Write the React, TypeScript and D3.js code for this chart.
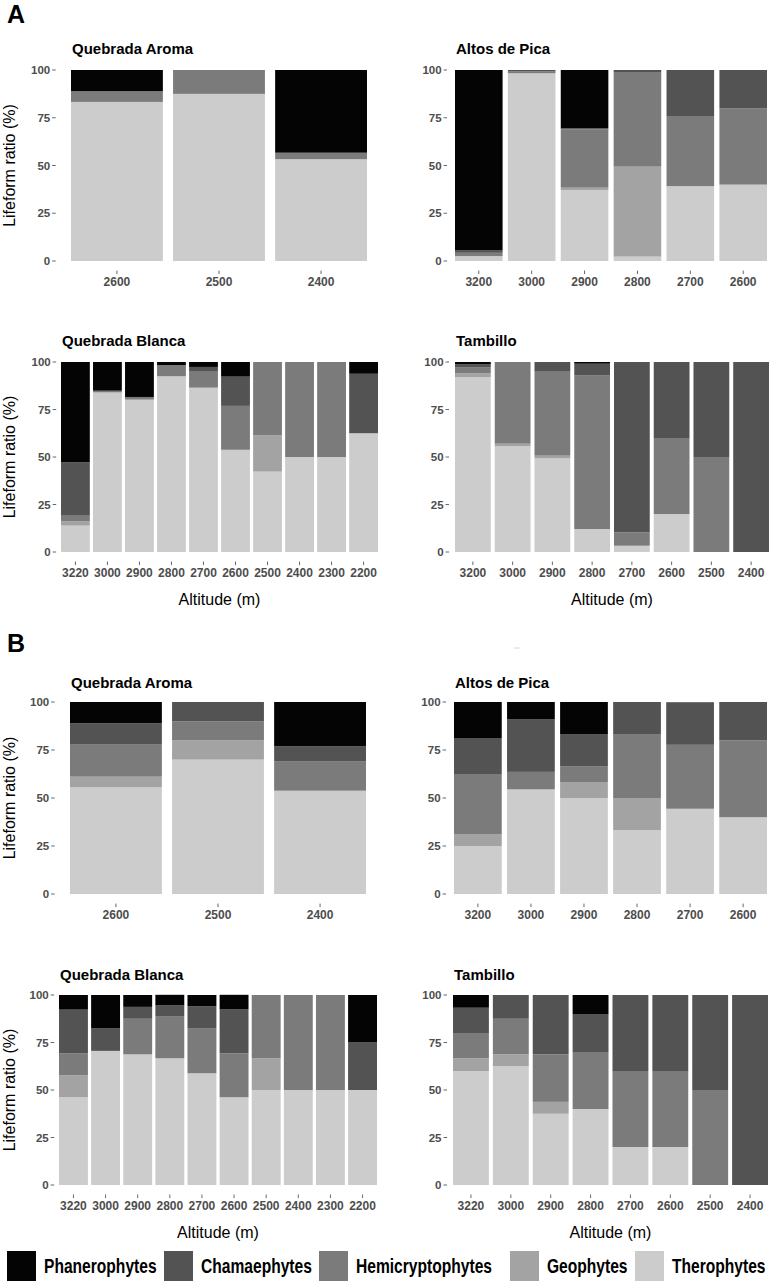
import React from "react";
import * as d3 from "d3";

// ---------- data ----------
const lifeforms = ["Phanerophytes", "Chamaephytes", "Hemicryptophytes", "Geophytes", "Therophytes"];
const stackKeys = ["Therophytes", "Geophytes", "Hemicryptophytes", "Chamaephytes", "Phanerophytes"]; // bottom -> top
const lifeformColors = ["#040404", "#535353", "#7b7b7b", "#a3a3a3", "#cccccc"];
const yTicks = [0, 25, 50, 75, 100];

// Panel A
const altA_QA = ["2600", "2500", "2400"];
const a_QA_Ther = [83.3, 87.5, 53.3];
const a_QA_Geo = [0, 0, 0];
const a_QA_Hemi = [5.6, 12.5, 3.4];
const a_QA_Cham = [0, 0, 0];
const a_QA_Phan = [11.1, 0, 43.3];

const altA_AP = ["3200", "3000", "2900", "2800", "2700", "2600"];
const a_AP_Ther = [2.6, 98.3, 37.2, 2.3, 39.2, 40];
const a_AP_Geo = [0, 0, 1.2, 47.1, 0, 0];
const a_AP_Hemi = [1.7, 0.9, 30.5, 49.2, 36.7, 40];
const a_AP_Cham = [1.4, 0.8, 0.6, 1.4, 24.1, 20];
const a_AP_Phan = [94.3, 0, 30.5, 0, 0, 0];

const altA_QB = ["3220", "3000", "2900", "2800", "2700", "2600", "2500", "2400", "2300", "2200"];
const a_QB_Ther = [13.9, 84.0, 80.2, 92.5, 86.5, 53.8, 42.3, 50, 50, 62.5];
const a_QB_Geo = [2.2, 0, 0, 0, 0, 0, 19.2, 0, 0, 0];
const a_QB_Hemi = [3.0, 0.9, 1.4, 5.9, 8.4, 23.1, 38.5, 50, 50, 0];
const a_QB_Cham = [28.1, 0, 0, 0, 2.5, 15.4, 0, 0, 0, 31.3];
const a_QB_Phan = [52.8, 15.1, 18.4, 1.6, 2.6, 7.7, 0, 0, 0, 6.2];

const altA_T = ["3200", "3000", "2900", "2800", "2700", "2600", "2500", "2400"];
const a_T_Ther = [92.1, 55.6, 49.3, 12.1, 3.3, 20, 0, 0];
const a_T_Geo = [1.9, 1.4, 1.4, 0, 0, 0, 0, 0];
const a_T_Hemi = [3.3, 43.0, 44.2, 81.0, 7.1, 40, 50, 0];
const a_T_Cham = [1.6, 0, 5.1, 6.0, 89.6, 40, 50, 100];
const a_T_Phan = [1.1, 0, 0, 0.9, 0, 0, 0, 0];

// Panel B
const altB_QA = ["2600", "2500", "2400"];
const b_QA_Ther = [55.6, 70, 53.8];
const b_QA_Geo = [5.5, 10, 0];
const b_QA_Hemi = [16.7, 10, 15.4];
const b_QA_Cham = [11.1, 10, 7.7];
const b_QA_Phan = [11.1, 0, 23.1];

const altB_AP = ["3200", "3000", "2900", "2800", "2700", "2600"];
const b_AP_Ther = [25, 54.5, 50, 33.3, 44.4, 40];
const b_AP_Geo = [6.25, 0, 8.3, 16.7, 0, 0];
const b_AP_Hemi = [31.25, 9.1, 8.3, 33.3, 33.3, 40];
const b_AP_Cham = [18.75, 27.3, 16.7, 16.7, 22.2, 20];
const b_AP_Phan = [18.75, 9.1, 16.7, 0, 0, 0];

const altB_QB = ["3220", "3000", "2900", "2800", "2700", "2600", "2500", "2400", "2300", "2200"];
const b_QB_Ther = [46.2, 70.6, 68.75, 66.7, 58.8, 46.2, 50, 50, 50, 50];
const b_QB_Geo = [11.5, 0, 0, 0, 0, 0, 16.7, 0, 0, 0];
const b_QB_Hemi = [11.5, 0, 18.75, 22.2, 23.5, 23.1, 33.3, 50, 50, 0];
const b_QB_Cham = [23.1, 11.8, 6.25, 5.6, 11.8, 23.1, 0, 0, 0, 25];
const b_QB_Phan = [7.7, 17.6, 6.25, 5.6, 5.9, 7.7, 0, 0, 0, 25];

const altB_T = ["3220", "3000", "2900", "2800", "2700", "2600", "2500", "2400"];
const b_T_Ther = [60, 62.5, 37.5, 40, 20, 20, 0, 0];
const b_T_Geo = [6.7, 6.25, 6.25, 0, 0, 0, 0, 0];
const b_T_Hemi = [13.3, 18.75, 25, 30, 40, 40, 50, 0];
const b_T_Cham = [13.3, 12.5, 31.25, 20, 40, 40, 50, 100];
const b_T_Phan = [6.7, 0, 0, 10, 0, 0, 0, 0];

// ---------- layout ----------
const FONT = "'Liberation Sans', Arial, Helvetica, sans-serif";

type Frame = { x0: number; x1: number; yTop: number; yBot: number; titleY: number; xTitleY?: number };

const panels = [
  { title: "Quebrada Aroma", cats: altA_QA, s: [a_QA_Phan, a_QA_Cham, a_QA_Hemi, a_QA_Geo, a_QA_Ther], f: { x0: 71, x1: 367, yTop: 70, yBot: 261, titleY: 53.5 }, yLab: true },
  { title: "Altos de Pica", cats: altA_AP, s: [a_AP_Phan, a_AP_Cham, a_AP_Hemi, a_AP_Geo, a_AP_Ther], f: { x0: 455, x1: 767, yTop: 70, yBot: 261, titleY: 53.5 }, yLab: false },
  { title: "Quebrada Blanca", cats: altA_QB, s: [a_QB_Phan, a_QB_Cham, a_QB_Hemi, a_QB_Geo, a_QB_Ther], f: { x0: 61, x1: 378, yTop: 362, yBot: 552, titleY: 345.5, xTitleY: 605 }, yLab: true },
  { title: "Tambillo", cats: altA_T, s: [a_T_Phan, a_T_Cham, a_T_Hemi, a_T_Geo, a_T_Ther], f: { x0: 455, x1: 769, yTop: 362, yBot: 552, titleY: 345.5, xTitleY: 605 }, yLab: false },
  { title: "Quebrada Aroma", cats: altB_QA, s: [b_QA_Phan, b_QA_Cham, b_QA_Hemi, b_QA_Geo, b_QA_Ther], f: { x0: 70, x1: 366, yTop: 702, yBot: 894, titleY: 687.5 }, yLab: true },
  { title: "Altos de Pica", cats: altB_AP, s: [b_AP_Phan, b_AP_Cham, b_AP_Hemi, b_AP_Geo, b_AP_Ther], f: { x0: 454, x1: 767, yTop: 702, yBot: 894, titleY: 687.5 }, yLab: false },
  { title: "Quebrada Blanca", cats: altB_QB, s: [b_QB_Phan, b_QB_Cham, b_QB_Hemi, b_QB_Geo, b_QB_Ther], f: { x0: 59, x1: 377, yTop: 995, yBot: 1185, titleY: 979.5, xTitleY: 1238 }, yLab: true },
  { title: "Tambillo", cats: altB_T, s: [b_T_Phan, b_T_Cham, b_T_Hemi, b_T_Geo, b_T_Ther], f: { x0: 453, x1: 768, yTop: 995, yBot: 1185, titleY: 979.5, xTitleY: 1238 }, yLab: false },
];

function Panel({ title, cats, s, f, yLab }: { title: string; cats: string[]; s: number[][]; f: Frame; yLab: boolean }) {
  const x = d3.scaleBand<string>().domain(cats).range([f.x0, f.x1]).paddingInner(0.1).paddingOuter(0);
  const y = d3.scaleLinear().domain([0, 100]).range([f.yBot, f.yTop]);
  const rows = cats.map((c, i) => {
    const r: any = { cat: c };
    lifeforms.forEach((lf, k) => (r[lf] = s[k][i]));
    return r;
  });
  const stacked = d3.stack<any>().keys(stackKeys)(rows);
  const colorOf = d3.scaleOrdinal<string, string>().domain(lifeforms).range(lifeformColors);
  const step = x.step();
  const panelLeft = f.x0 - 0.15 * step;
  const panelBottom = y(-5);
  const bw = x.bandwidth();
  return (
    <g>
      <text x={f.x0 + 1} y={f.titleY} fontFamily={FONT} fontWeight="bold" fontSize={15} fill="#000">
        {title}
      </text>
      {stacked.map((layer) => (
        <g key={layer.key} fill={colorOf(layer.key)}>
          {layer.map((d, i) =>
            d[1] - d[0] > 0 ? (
              <rect key={i} x={x(d.data.cat)} width={bw} y={y(d[1])} height={y(d[0]) - y(d[1])} />
            ) : null
          )}
        </g>
      ))}
      {yTicks.map((t) => (
        <g key={t}>
          <line x1={panelLeft - 3.5} x2={panelLeft} y1={y(t)} y2={y(t)} stroke="#555" strokeWidth={0.9} />
          <text x={panelLeft - 5.5} y={y(t)} dy="0.36em" textAnchor="end" fontFamily={FONT} fontWeight="bold" fontSize={11.5} fill="#4d4d4d">
            {t}
          </text>
        </g>
      ))}
      {cats.map((c) => {
        const cx = (x(c) as number) + bw / 2;
        return (
          <g key={c}>
            <line x1={cx} x2={cx} y1={panelBottom} y2={panelBottom + 3.5} stroke="#555" strokeWidth={0.9} />
            <text x={cx} y={panelBottom + 15} textAnchor="middle" fontFamily={FONT} fontWeight="bold" fontSize={12} fill="#4d4d4d">
              {c}
            </text>
          </g>
        );
      })}
      {yLab ? (
        <text
          transform={`translate(15,${(f.yTop + f.yBot) / 2}) rotate(-90)`}
          textAnchor="middle"
          fontFamily={FONT}
          fontSize={16}
          fill="#000"
        >
          Lifeform ratio (%)
        </text>
      ) : null}
      {f.xTitleY ? (
        <text x={(f.x0 + f.x1) / 2} y={f.xTitleY} textAnchor="middle" fontFamily={FONT} fontSize={16} fill="#000">
          Altitude (m)
        </text>
      ) : null}
    </g>
  );
}

// legend layout (box left edges)
const legendBoxX = [7, 164, 319, 510, 635];

export default function App() {
  return (
    <svg width={773} height={1283} style={{ position: "absolute", left: 0, top: 0, background: "#fff" }}>
      <rect x={0} y={0} width={773} height={1283} fill="#fff" />
      <text x={7} y={23} fontFamily={FONT} fontWeight="bold" fontSize={25} fill="#000">A</text>
      <text x={7} y={652} fontFamily={FONT} fontWeight="bold" fontSize={25} fill="#000">B</text>
      <line x1={514} x2={520} y1={648} y2={648} stroke="#d8d8d8" strokeWidth={1} />
      {panels.map((p, i) => (
        <Panel key={i} title={p.title} cats={p.cats} s={p.s} f={p.f as Frame} yLab={p.yLab} />
      ))}
      {lifeforms.map((lf, i) => (
        <g key={lf}>
          <rect x={legendBoxX[i]} y={1251} width={29} height={30} fill={lifeformColors[i]} />
          <text
            transform={`translate(${legendBoxX[i] + 37},1273) scale(0.8,1)`}
            fontFamily={FONT}
            fontWeight="bold"
            fontSize={19.5}
            fill="#000"
          >
            {lf}
          </text>
        </g>
      ))}
    </svg>
  );
}
